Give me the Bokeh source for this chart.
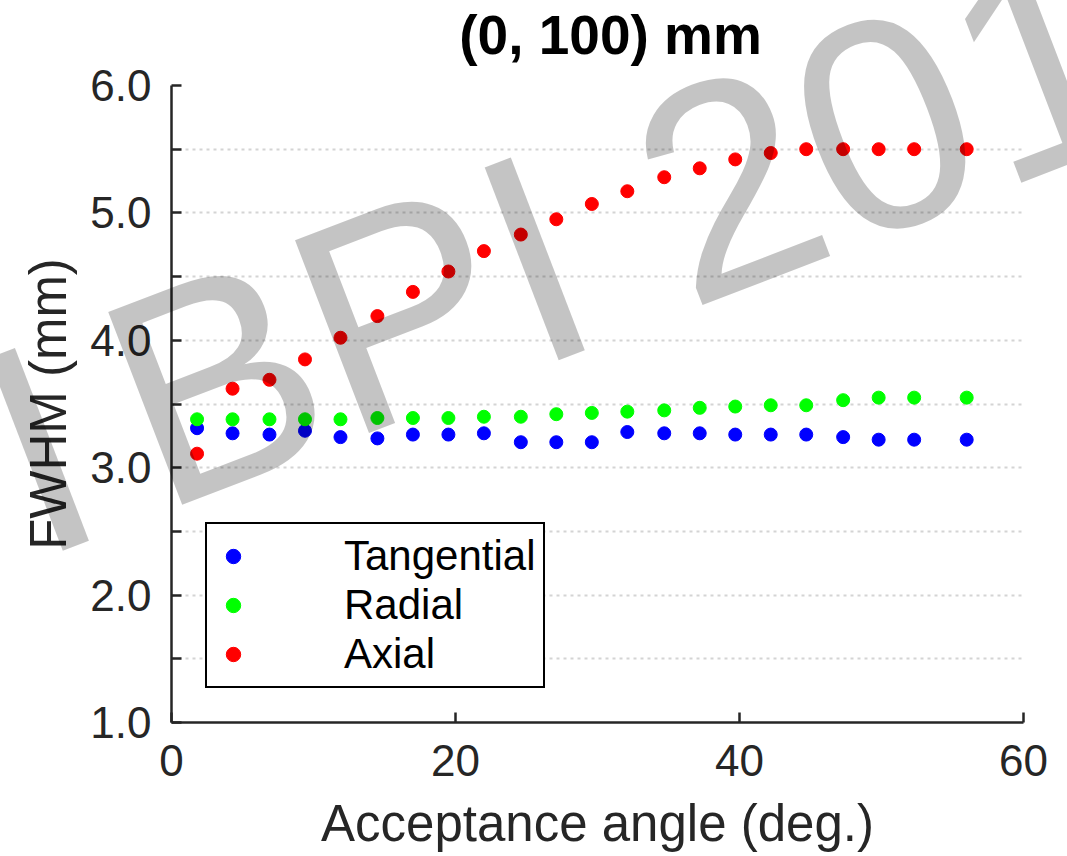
import math
from bokeh.plotting import figure
from bokeh.models import (Range1d, FixedTicker, Legend, LegendItem)
from bokeh.core.properties import value
from bokeh.embed import file_html
from bokeh.resources import INLINE

# ---- data ----
angle = [1.8, 4.3, 6.9, 9.4, 11.9, 14.5, 17.0, 19.5, 22.0, 24.6, 27.1,
         29.6, 32.1, 34.7, 37.2, 39.7, 42.2, 44.7, 47.3, 49.8, 52.3, 56.0]
tangential = [3.31, 3.27, 3.26, 3.29, 3.24, 3.23, 3.26, 3.26, 3.27, 3.20, 3.20,
              3.20, 3.28, 3.27, 3.27, 3.26, 3.26, 3.26, 3.24, 3.22, 3.22, 3.22]
radial = [3.38, 3.38, 3.38, 3.38, 3.38, 3.39, 3.39, 3.39, 3.40, 3.40, 3.42,
          3.43, 3.44, 3.45, 3.47, 3.48, 3.49, 3.49, 3.53, 3.55, 3.55, 3.55]
axial = [3.11, 3.62, 3.69, 3.85, 4.02, 4.19, 4.38, 4.54, 4.70, 4.83, 4.95,
         5.07, 5.17, 5.28, 5.35, 5.42, 5.47, 5.50, 5.50, 5.50, 5.50, 5.50]
series_names = ["Tangential", "Radial", "Axial"]
series_colors = ["#0000ff", "#00ff00", "#ff0000"]
x_ticks = [0, 20, 40, 60]
y_ticks = [1.0, 1.5, 2.0, 2.5, 3.0, 3.5, 4.0, 4.5, 5.0, 5.5, 6.0]
title_text = ["(0, 100) mm"]
title_x = [30.92]
title_y = [6.40]
x_label = "Acceptance angle (deg.)"
y_label = "FWHM (mm)"
# watermark pieces (anchor in data units)
wm_text = ["I", "BPI 201"]
wm_x = [-12.1, -3.49]
wm_y = [3.033, 3.402]

FONT = "Liberation Sans"
AX = "#262626"

p = figure(frame_width=852, frame_height=637,
           min_border_left=171, min_border_right=44,
           min_border_top=85, min_border_bottom=128,
           x_range=Range1d(0, 60), y_range=Range1d(1, 6),
           output_backend="svg", toolbar_location=None,
           background_fill_color="white", border_fill_color="white")
p.outline_line_color = None

# axes
for ax in (p.xaxis[0], p.yaxis[0]):
    ax.axis_line_color = AX
    ax.axis_line_width = 2.5
    ax.major_tick_line_color = AX
    ax.major_tick_line_width = 2.5
    ax.major_tick_in = 10
    ax.major_tick_out = 0
    ax.minor_tick_line_color = None
    ax.major_label_text_font = FONT
    ax.major_label_text_font_size = "44px"
    ax.major_label_text_color = AX
    ax.axis_label_text_font = FONT
    ax.axis_label_text_font_size = "51px"
    ax.axis_label_text_font_style = "normal"
    ax.axis_label_text_color = AX

p.xaxis.ticker = FixedTicker(ticks=x_ticks)
p.xaxis.major_label_overrides = {t: str(t) for t in x_ticks}
p.xaxis.major_label_standoff = 22
p.xaxis.axis_label = x_label
p.xaxis.axis_label_standoff = 16

p.yaxis.ticker = FixedTicker(ticks=y_ticks)
p.yaxis.major_label_overrides = {t: ("%.1f" % t if float(t).is_integer() else "") for t in y_ticks}
p.yaxis.major_label_standoff = 20
p.yaxis.axis_label = y_label
p.yaxis.axis_label_standoff = 10

p.xgrid.visible = False
p.ygrid.grid_line_color = "#d4d4d4"
p.ygrid.grid_line_width = 2
p.ygrid.grid_line_dash = "3 4"

# data
renderers = []
for vals, col in zip([tangential, radial, axial], series_colors):
    r = p.scatter(angle, vals, size=13, fill_color=col, line_color=col)
    renderers.append(r)

legend = Legend(items=[LegendItem(label=n, renderers=[r]) for n, r in zip(series_names, renderers)],
                location=(34, 34))
legend.border_line_color = "black"
legend.border_line_width = 2.5
legend.border_line_alpha = 1.0
legend.background_fill_color = "white"
legend.background_fill_alpha = 1.0
legend.label_text_font = FONT
legend.label_text_font_size = "42px"
legend.label_text_color = "black"
legend.padding = 8
legend.spacing = 1
legend.glyph_width = 36
legend.glyph_height = 44
legend.label_height = 44
legend.label_standoff = 93
legend.margin = 0
p.add_layout(legend)

# title (drawn on the overlay level so that it can sit above the frame)
p.text(x=title_x, y=title_y, text=title_text,
       text_font=value(FONT), text_font_size=value("55px"), text_font_style="bold",
       text_color="black", text_align="center", text_baseline="alphabetic",
       level="overlay")

# watermark (semi-transparent, drawn on the overlay level)
p.text(x=wm_x, y=wm_y, text=wm_text, angle=math.radians(21),
       text_font=value(FONT), text_font_size=value("300px"),
       text_color="black", text_alpha=0.23,
       text_align="left", text_baseline="alphabetic", level="overlay")

open("out.html", "w").write(file_html(p, INLINE))
